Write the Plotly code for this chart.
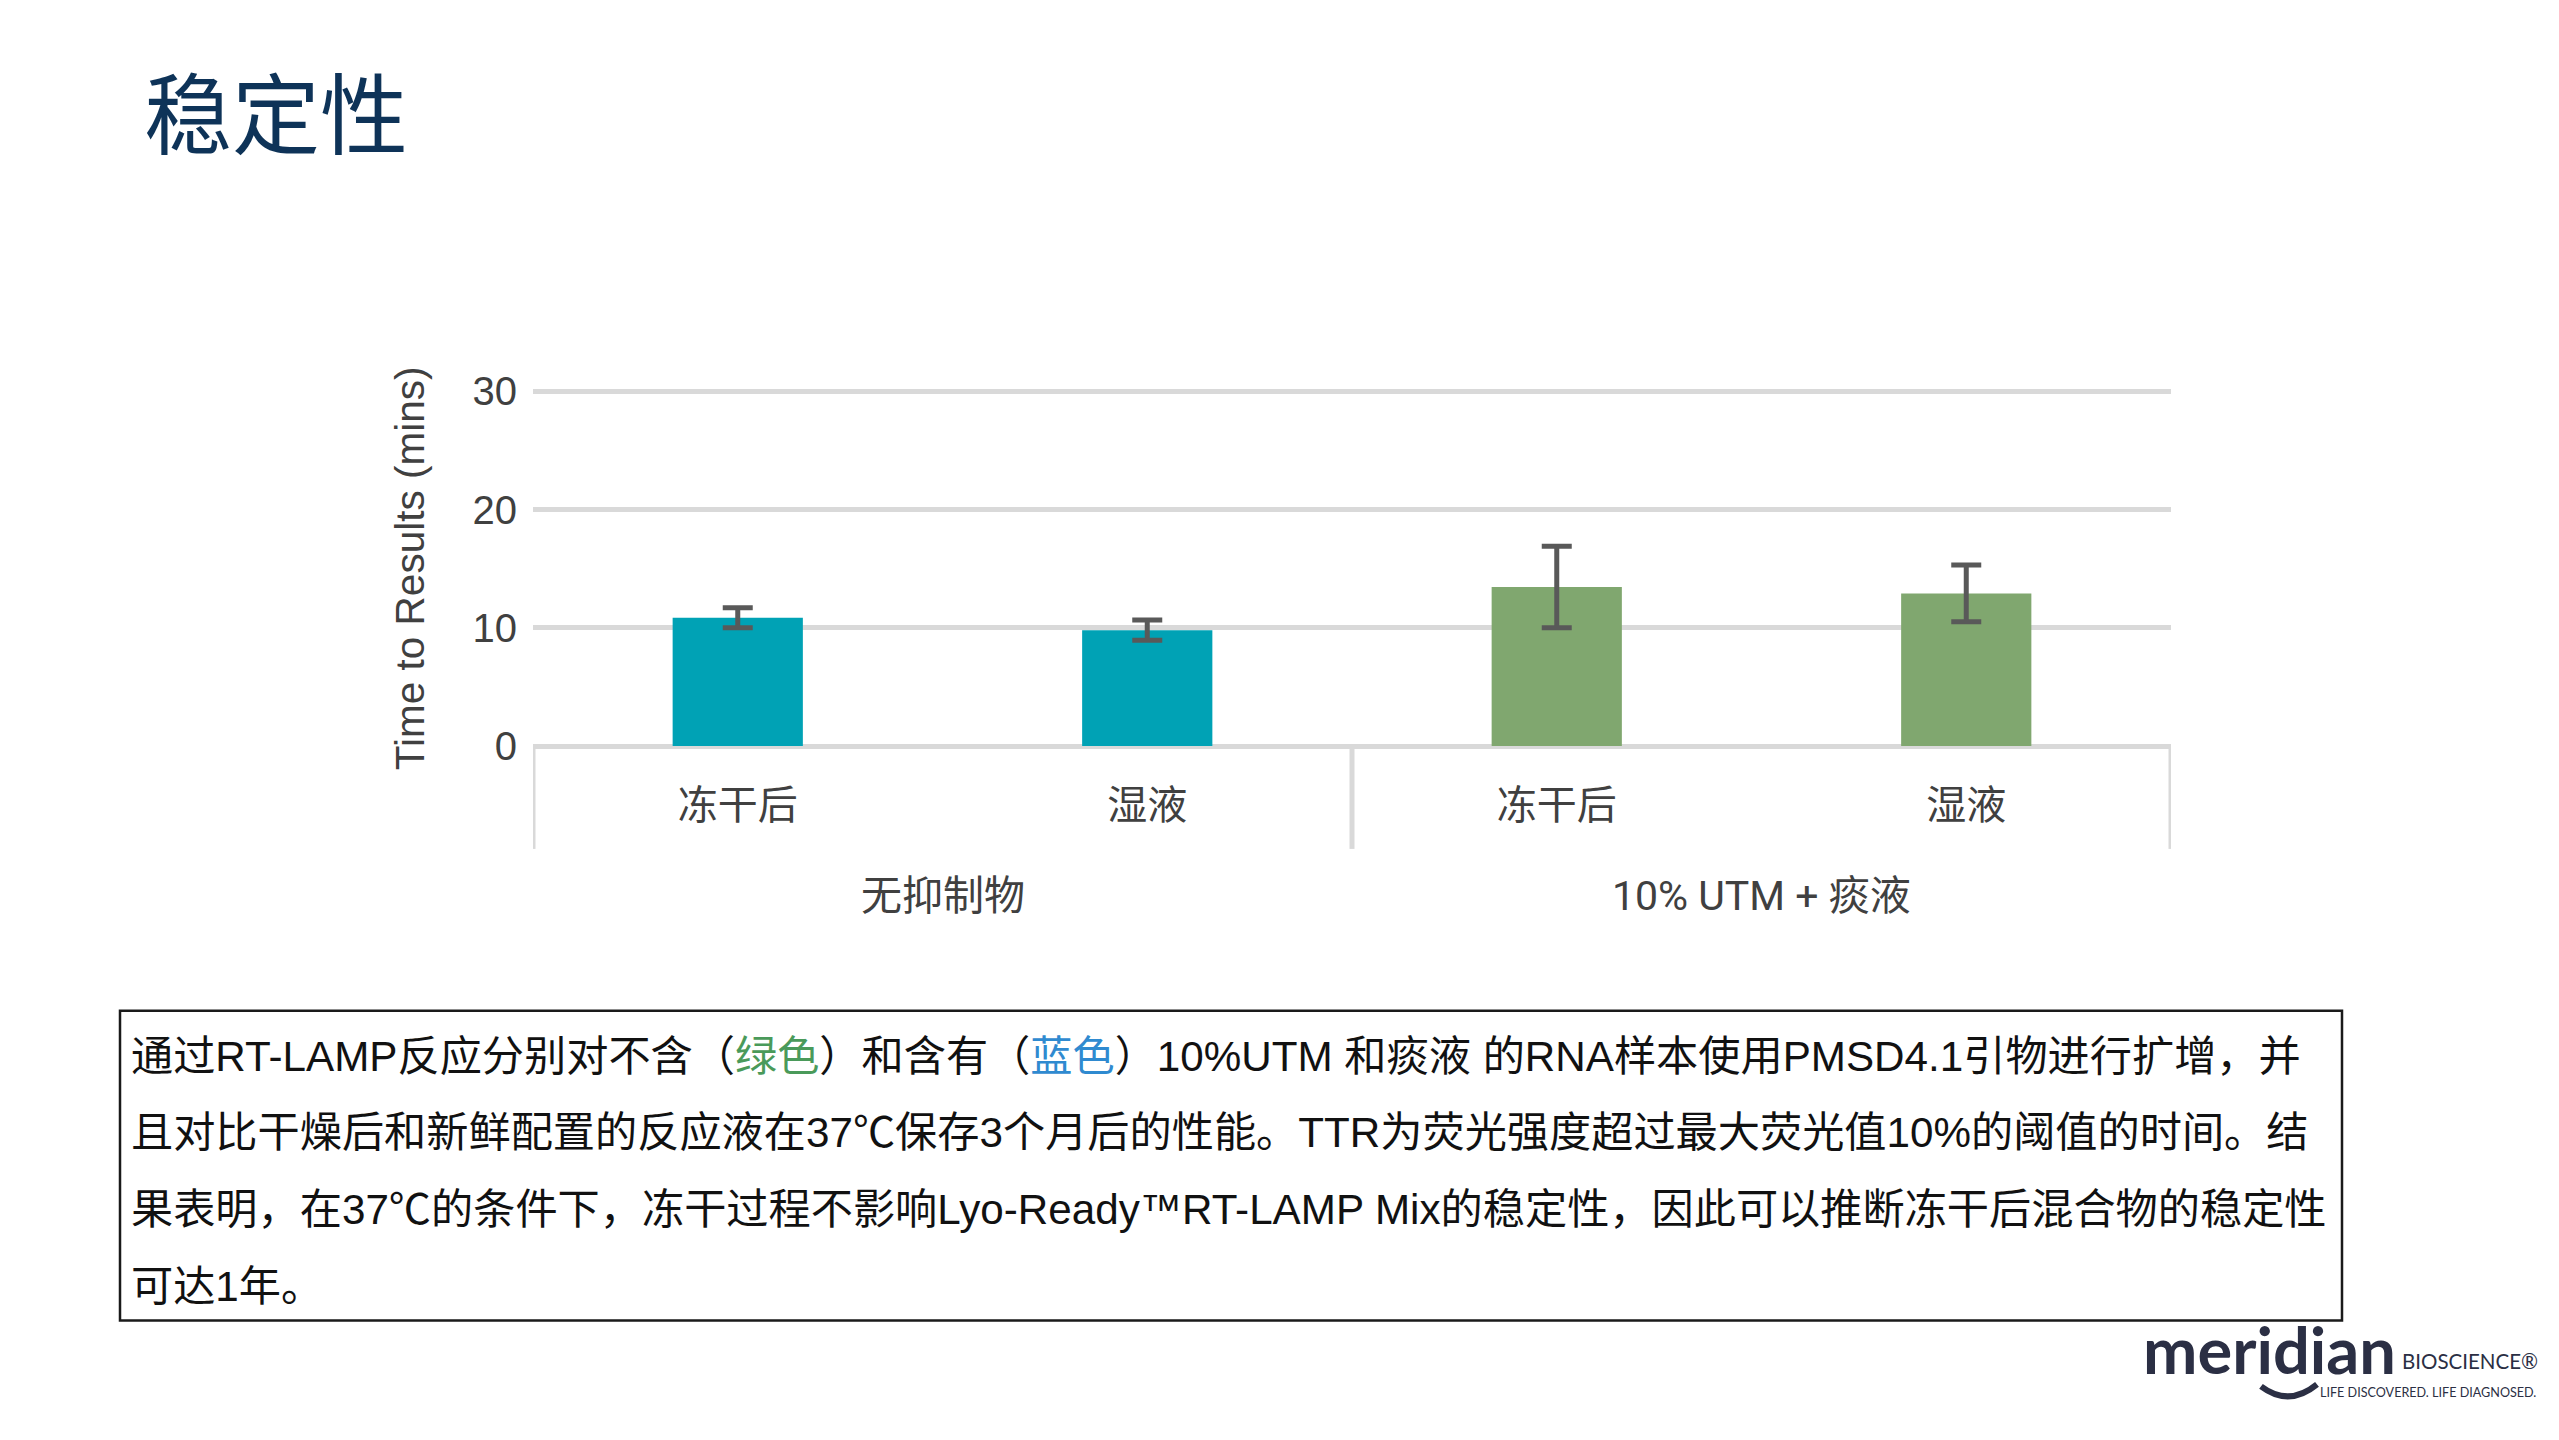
import plotly.graph_objects as go

# ---------------- data ----------------
title_text = "稳定性"
conditions = ["冻干后", "湿液", "冻干后", "湿液"]
group_names = ["无抑制物", "10% UTM + 痰液"]
group_of_bar = [0, 0, 1, 1]
ttr_values = [10.85, 9.8, 13.45, 12.9]
ttr_errors = [0.85, 0.85, 3.45, 2.4]
y_tick_values = [0, 10, 20, 30]
y_axis_title = "Time to Results (mins)"
caption_lines = [
    "通过RT-LAMP反应分别对不含（绿色）和含有（蓝色）10%UTM 和痰液 的RNA样本使用PMSD4.1引物进行扩增，并",
    "且对比干燥后和新鲜配置的反应液在37℃保存3个月后的性能。TTR为荧光强度超过最大荧光值10%的阈值的时间。结",
    "果表明，在37℃的条件下，冻干过程不影响Lyo-Ready™RT-LAMP Mix的稳定性，因此可以推断冻干后混合物的稳定性",
    "可达1年。",
]
logo_word = "meridian"
logo_sub = "BIOSCIENCE®"
logo_tag = "LIFE DISCOVERED. LIFE DIAGNOSED."

# ---------------- styles / layout ----------------
W, H = 2559, 1440
L, R, B = 533, 2171, 746          # plot area edges in pixels
Y_TOP_PX = 391                     # pixel row of the top tick value
y_top = y_tick_values[-1]
y_range_top = y_top * 1.015        # a little headroom so the top gridline shows
T = B - y_range_top * (B - Y_TOP_PX) / y_top

group_colors = ["#00A2B5", "#80A76F"]
highlight = {"绿色": "#4A9A5A", "蓝色": "#2F8AD0"}
grid_color = "#D9D9D9"
label_color = "#404040"
cjk = "Noto Sans CJK SC"
latin = "Liberation Sans"
logo_color = "#2B2F44"


def px_x(px):
    return (px - L) / (R - L)


def px_y(py):
    return (B - py) / (B - T)


x_pos = list(range(len(conditions)))
bar_colors = [group_colors[g] for g in group_of_bar]

fig = go.Figure()
fig.add_trace(go.Bar(
    x=x_pos,
    y=ttr_values,
    marker=dict(color=bar_colors, line=dict(width=0)),
    error_y=dict(type="data", array=ttr_errors, visible=True,
                 color="#595959", thickness=5, width=15),
    showlegend=False,
    hoverinfo="skip",
))

shapes = []
# group dividers under the category axis
bounds = [x_pos[0] - 0.5]
for i in range(1, len(group_of_bar)):
    if group_of_bar[i] != group_of_bar[i - 1]:
        bounds.append(x_pos[i] - 0.5)
bounds.append(x_pos[-1] + 0.5)
for bx in bounds:
    shapes.append(dict(type="line", xref="x", yref="paper", x0=bx, x1=bx,
                       y0=0, y1=px_y(849), line=dict(color=grid_color, width=5),
                       layer="below"))
# caption box
shapes.append(dict(type="rect", xref="paper", yref="paper",
                   x0=px_x(120), x1=px_x(2342), y0=px_y(1011), y1=px_y(1321),
                   line=dict(color="#1A1A1A", width=2.5)))
# logo smile
sx0, sx1 = px_x(2261), px_x(2317)
shapes.append(dict(type="path", xref="paper", yref="paper",
                   path=(f"M {sx0},{px_y(1387)} Q {(sx0 + sx1) / 2},{px_y(1408)} "
                         f"{sx1},{px_y(1385)}"),
                   line=dict(color=logo_color, width=6)))

annotations = []
# title
annotations.append(dict(text=title_text, xref="paper", yref="paper",
                        x=px_x(142), y=px_y(108), xanchor="left", yanchor="middle",
                        showarrow=False,
                        font=dict(family=cjk, size=88, color="#0E3358")))
# y-axis title
annotations.append(dict(text=y_axis_title, xref="paper", yref="paper",
                        x=0, xshift=410 - L, y=px_y(568), xanchor="center", yanchor="middle",
                        textangle=-90, showarrow=False,
                        font=dict(family=latin, size=40.5, color=label_color)))
# group labels
for gi, gname in enumerate(group_names):
    xs = [x for x, g in zip(x_pos, group_of_bar) if g == gi]
    annotations.append(dict(text=gname, xref="x", yref="paper",
                            x=sum(xs) / len(xs), y=0, yshift=-(896 - B),
                            xanchor="center", yanchor="middle", showarrow=False,
                            font=dict(family="Roboto, " + cjk, size=41, color=label_color)))
# caption lines
line_centers = [1057, 1133, 1210, 1287]
for txt, yc in zip(caption_lines, line_centers):
    for word, col in highlight.items():
        txt = txt.replace(word, f"<span style='color:{col}'>{word}</span>", 1)
    annotations.append(dict(text=txt, xref="paper", yref="paper",
                            x=px_x(129), y=px_y(yc), xanchor="left", yanchor="middle",
                            showarrow=False,
                            font=dict(family=latin + ", " + cjk, size=42.2, color="#111111")))
# logo
annotations.append(dict(text=f"<b>{logo_word}</b>", xref="paper", yref="paper",
                        x=px_x(2141), y=px_y(1350), xanchor="left", yanchor="middle",
                        showarrow=False,
                        font=dict(family="Lato", size=65, color=logo_color)))
annotations.append(dict(text=logo_sub, xref="paper", yref="paper",
                        x=px_x(2400), y=px_y(1362), xanchor="left", yanchor="middle",
                        showarrow=False,
                        font=dict(family="Lato", size=20.5, color=logo_color)))
annotations.append(dict(text=logo_tag, xref="paper", yref="paper",
                        x=px_x(2318), y=px_y(1393), xanchor="left", yanchor="middle",
                        showarrow=False,
                        font=dict(family="Lato", size=12.6, color=logo_color)))

fig.update_layout(
    width=W, height=H,
    autosize=False,
    margin=dict(l=L, r=W - R, t=T, b=H - B, autoexpand=False),
    paper_bgcolor="white", plot_bgcolor="white",
    bargap=0.682,
    font=dict(family=cjk, color=label_color),
    shapes=shapes,
    annotations=annotations,
    xaxis=dict(range=[-0.5, len(conditions) - 0.5], tickmode="array",
               tickvals=x_pos, ticktext=conditions,
               showgrid=False, zeroline=False, showline=False,
               ticks="outside", ticklen=24, tickcolor="rgba(0,0,0,0)",
               tickfont=dict(family=cjk, size=40, color=label_color),
               fixedrange=True),
    yaxis=dict(range=[0, y_range_top], tickmode="array", tickvals=y_tick_values,
               showgrid=True, gridcolor=grid_color, gridwidth=5,
               zeroline=True, zerolinecolor=grid_color, zerolinewidth=5,
               showline=False, ticks="outside", ticklen=7,
               tickcolor="rgba(0,0,0,0)",
               tickfont=dict(family=latin, size=40, color=label_color),
               fixedrange=True),
)

fig.write_html("out.html", config={"displayModeBar": False},
               post_script="document.body.style.margin='0';document.body.style.overflow='hidden';")
